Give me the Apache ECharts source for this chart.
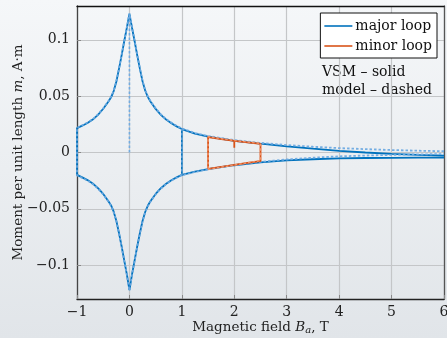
<!DOCTYPE html>
<html>
<head>
<meta charset="utf-8">
<script src="https://cdn.jsdelivr.net/npm/echarts@6/dist/echarts.min.js"></script>
<style>
html,body{margin:0;padding:0;}
#main{width:447px;height:338px;background:linear-gradient(to bottom,#f5f7f9,#e1e5e9);}
</style>
</head>
<body>
<div id="main"></div>
<script>
// Applied field B_a (T) sample points of the major loop
const fieldB = [-1, -0.9, -0.8, -0.7, -0.6, -0.5, -0.4, -0.35, -0.3, -0.25, -0.2, -0.15, -0.1, -0.05, -0.025, 0,
  0.025, 0.05, 0.1, 0.15, 0.2, 0.25, 0.3, 0.35, 0.4, 0.5, 0.6, 0.7, 0.8, 0.9, 1, 1.25, 1.5, 2, 2.5, 3, 3.5, 4, 4.5, 5, 5.5, 6];
// VSM measurement (solid), decreasing-field branch
const vsmUpper = [0.0216, 0.0238, 0.0262, 0.0292, 0.0334, 0.0388, 0.0452, 0.0490, 0.0545, 0.0628, 0.0740, 0.0860, 0.0985, 0.1105, 0.1168, 0.1230,
  0.1168, 0.1105, 0.0985, 0.0860, 0.0742, 0.0632, 0.0550, 0.0494, 0.0453, 0.0387, 0.0334, 0.0292, 0.0260, 0.0232, 0.0208, 0.0168, 0.0141, 0.0104, 0.0078, 0.0055, 0.0034, 0.0014, 0.0000, -0.0012, -0.0021, -0.0028];
// VSM measurement (solid), increasing-field branch
const vsmLower = [-0.0199, -0.0221, -0.0245, -0.0275, -0.0316, -0.0368, -0.0432, -0.0470, -0.0525, -0.0605, -0.0712, -0.0830, -0.0955, -0.1080, -0.1150, -0.1220,
  -0.1150, -0.1080, -0.0955, -0.0830, -0.0714, -0.0608, -0.0528, -0.0473, -0.0433, -0.0368, -0.0317, -0.0277, -0.0246, -0.0221, -0.0199, -0.0170, -0.0148, -0.0113, -0.0088, -0.0070, -0.0060, -0.0053, -0.0049, -0.0047, -0.0046, -0.0045];
// Model (dashed)
const modelUpper = [0.0220, 0.0242, 0.0266, 0.0296, 0.0338, 0.0392, 0.0456, 0.0494, 0.0550, 0.0633, 0.0745, 0.0865, 0.0990, 0.1110, 0.1173, 0.1235,
  0.1173, 0.1110, 0.0990, 0.0865, 0.0747, 0.0637, 0.0555, 0.0499, 0.0458, 0.0392, 0.0339, 0.0297, 0.0265, 0.0237, 0.0213, 0.0173, 0.0146, 0.0110, 0.0085, 0.0066, 0.0051, 0.0039, 0.0030, 0.0022, 0.0016, 0.0011];
const modelLower = [-0.0203, -0.0225, -0.0249, -0.0279, -0.0320, -0.0372, -0.0436, -0.0474, -0.0530, -0.0610, -0.0717, -0.0835, -0.0960, -0.1085, -0.1155, -0.1225,
  -0.1155, -0.1085, -0.0960, -0.0835, -0.0719, -0.0613, -0.0533, -0.0478, -0.0437, -0.0372, -0.0320, -0.0280, -0.0249, -0.0224, -0.0202, -0.0172, -0.0149, -0.0112, -0.0083, -0.0062, -0.0046, -0.0034, -0.0027, -0.0021, -0.0017, -0.0014];

// Minor loop (1.5 T to 2.5 T)
const minorUpperB = [1.5, 1.75, 2, 2, 2, 2.25, 2.5];
const minorUpperVsm = [0.0136, 0.0119, 0.0103, 0.0042, 0.0103, 0.0089, 0.0076];
const minorLowerB = [1.5, 1.75, 2, 2.25, 2.5];
const minorLowerVsm = [-0.0146, -0.0127, -0.0110, -0.0093, -0.0077];
const minorUpperModelB = [1.5, 1.75, 2, 2.25, 2.5];
const minorUpperModel = [0.0141, 0.0123, 0.0107, 0.0094, 0.0082];
const minorLowerModel = [-0.0150, -0.0130, -0.0112, -0.0092, -0.0072];

const xTicks = [-1, 0, 1, 2, 3, 4, 5, 6];
const yTicks = [-0.1, -0.05, 0, 0.05, 0.1];

const BLUE = '#0072bd';
const BLUE_D = 'rgba(110,170,225,0.95)';
const ORANGE = '#d95319';
const ORANGE_D = 'rgba(240,150,110,0.95)';
const FONT = 'DejaVu Serif';

function loop(xs, up, lo) {
  const pts = [];
  for (let i = xs.length - 1; i >= 0; i--) pts.push([xs[i], up[i]]);
  for (let i = 0; i < xs.length; i++) pts.push([xs[i], lo[i]]);
  return pts;
}
function minorLoop(ub, uv, lb, lv) {
  const pts = [];
  for (let i = 0; i < lb.length; i++) pts.push([lb[i], lv[i]]);
  for (let i = ub.length - 1; i >= 0; i--) pts.push([ub[i], uv[i]]);
  pts.push([lb[0], lv[0]]);
  return pts;
}
const i1 = fieldB.indexOf(1);
const i0 = fieldB.indexOf(0);

const minus = s => String(s).replace('-', '\u2212');

const chart = echarts.init(document.getElementById('main'), null, {renderer: 'canvas'});
const lineSeries = (name, data, color, width, dashed, z) => ({
  name, type: 'line', data, showSymbol: false, symbol: 'none', z,
  lineStyle: {color, width, type: dashed ? [2.5, 2] : 'solid'},
  itemStyle: {color},
  animation: false
});

chart.setOption({
  animation: false,
  grid: {left: 77, right: 3, top: 6, bottom: 39, containLabel: false, outerBoundsMode: 'none'},
  xAxis: [{
    type: 'value', min: -1, max: 6, interval: 1,
    axisLine: {show: true, onZero: false, lineStyle: {color: '#222', width: 1.3}},
    axisTick: {show: true, inside: true, length: 4, lineStyle: {color: '#888'}},
    splitLine: {show: true, lineStyle: {color: '#c4c6c8', width: 1.2}},
    axisLabel: {color: '#222', fontFamily: FONT, fontSize: 14, margin: 6, formatter: v => minus(v)},
    name: '{n|Magnetic field }{i|B}{s|a}{n|, T}',
    nameLocation: 'middle', nameGap: 20, nameMoveOverlap: false,
    nameTextStyle: {color: '#222', rich: {
      n: {fontFamily: FONT, fontSize: 13.5, color: '#222'},
      i: {fontFamily: FONT, fontSize: 13.5, fontStyle: 'italic', color: '#222'},
      s: {fontFamily: FONT, fontSize: 10, fontStyle: 'italic', color: '#222', padding: [6, 0, 0, 0]}
    }}
  }, {
    type: 'value', position: 'top', min: -1, max: 6, interval: 1,
    axisLine: {show: true, onZero: false, lineStyle: {color: '#111', width: 1.3}},
    axisTick: {show: false}, axisLabel: {show: false}, splitLine: {show: false}
  }],
  yAxis: [{
    type: 'value', min: -0.13, max: 0.13,
    axisLine: {show: true, onZero: false, lineStyle: {color: '#444', width: 1.3}},
    axisTick: {show: true, inside: true, length: 4, customValues: yTicks, lineStyle: {color: '#888'}},
    splitLine: {show: true, lineStyle: {color: '#c4c6c8', width: 1.2}},
    axisLabel: {color: '#222', fontFamily: FONT, fontSize: 14, margin: 7, customValues: yTicks,
      formatter: v => v === 0 ? '0' : minus(v)},
    name: '{n|Moment per unit length }{i|m}{n|, A\u00b7m}',
    nameLocation: 'middle', nameGap: 52, nameRotate: 90, nameMoveOverlap: false,
    nameTextStyle: {color: '#222', rich: {
      n: {fontFamily: FONT, fontSize: 13.5, color: '#222'},
      i: {fontFamily: FONT, fontSize: 13.5, fontStyle: 'italic', color: '#222'}
    }}
  }, {
    type: 'value', position: 'right', min: -0.13, max: 0.13,
    axisLine: {show: true, onZero: false, lineStyle: {color: '#555', width: 1.3}},
    axisTick: {show: false}, axisLabel: {show: false}, splitLine: {show: false}
  }],
  legend: {
    right: 10, top: 13, orient: 'vertical',
    data: [{name: 'major loop', icon: 'rect'}, {name: 'minor loop', icon: 'rect'}],
    backgroundColor: '#fff', borderColor: '#111', borderWidth: 1, borderRadius: 0,
    padding: [6, 5, 5, 4], itemGap: 6, itemWidth: 28, itemHeight: 1.6,
    textStyle: {fontFamily: FONT, fontSize: 14, color: '#111', padding: [0, 0, 0, -2]}
  },
  graphic: [
    {type: 'text', left: 322, top: 65, style: {text: 'VSM \u2013 solid', font: '14px "DejaVu Serif"', fill: '#111'}},
    {type: 'text', left: 322, top: 83, style: {text: 'model \u2013 dashed', font: '14px "DejaVu Serif"', fill: '#111'}}
  ],
  series: [
    lineSeries('major loop', loop(fieldB, vsmUpper, vsmLower), BLUE, 1.8, false, 3),
    lineSeries('major loop', [[1, vsmUpper[i1]], [1, vsmLower[i1]]], BLUE, 1.6, false, 3),
    lineSeries('major loop', loop(fieldB, modelUpper, modelLower), BLUE_D, 1.8, true, 4),
    lineSeries('major loop', [[0, 0], [0, modelUpper[i0]]], BLUE_D, 1.6, true, 4),
    lineSeries('major loop', [[1, modelUpper[i1]], [1, modelLower[i1]]], BLUE_D, 1.4, true, 4),
    lineSeries('minor loop', minorLoop(minorUpperB, minorUpperVsm, minorLowerB, minorLowerVsm), ORANGE, 1.8, false, 5),
    lineSeries('minor loop', minorLoop(minorUpperModelB, minorUpperModel, minorUpperModelB, minorLowerModel), ORANGE_D, 1.6, true, 6)
  ]
});
</script>
</body>
</html>
